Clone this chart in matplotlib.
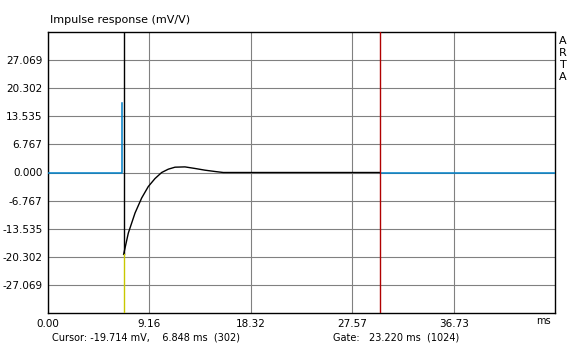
import matplotlib
matplotlib.use("Agg")
import matplotlib.pyplot as plt

# Data
y_ticks = [-27.069, -20.302, -13.535, -6.767, 0.0, 6.767, 13.535, 20.302, 27.069]
y_tick_labels = ["-27.069", "-20.302", "-13.535", "-6.767", "0.000", "6.767", "13.535", "20.302", "27.069"]
x_max = 45.9
x_ticks = [0.0, 9.18, 18.36, 27.54, 36.72]
x_tick_labels = ["0.00", "9.16", "18.32", "27.57", "36.73"]
y_lim = 33.835

cursor_ms = 6.848
cursor_val = -19.714
gate_end_ms = 30.068

# pre-cursor (blue) trace
pre_t = [0.0, 6.70, 6.70]
pre_v = [0.0, 0.0, 16.7]
# gated (black) response
gate_t = [6.848, 7.27, 7.88, 8.48, 9.08, 9.69, 10.29, 10.89, 11.50, 12.40, 13.31, 14.21, 15.12, 15.87, 30.068]
gate_v = [-19.714, -14.6, -9.75, -6.14, -3.38, -1.45, 0.0, 0.80, 1.28, 1.35, 0.97, 0.56, 0.24, 0.0, 0.0]
# post-gate (blue) trace
post_t = [30.068, 45.9]
post_v = [0.0, 0.0]

fig = plt.figure(figsize=(5.78, 3.45), dpi=100)
ax = fig.add_axes([48/578, 32/345, 507/578, 281/345])
ax.set_xlim(0, x_max)
ax.set_ylim(-y_lim, y_lim)

ax.set_xticks(x_ticks)
ax.set_xticklabels(x_tick_labels)
ax.set_yticks(y_ticks)
ax.set_yticklabels(y_tick_labels)
ax.tick_params(length=0, labelsize=7.5, pad=4)
ax.grid(True, color="#808080", linewidth=0.8)
for s in ax.spines.values():
    s.set_color("black")
    s.set_linewidth(1.0)

blue = "#0080c8"
ax.plot(pre_t, pre_v, color=blue, lw=1.1, zorder=3)
ax.plot(post_t, post_v, color=blue, lw=1.1, zorder=3)
ax.plot(gate_t, gate_v, color="black", lw=1.0, zorder=4)
# cursor line: black above the point, yellow below
ax.plot([cursor_ms, cursor_ms], [cursor_val, y_lim], color="black", lw=1.0, zorder=4)
ax.plot([cursor_ms, cursor_ms], [-y_lim, cursor_val], color="#c8c800", lw=1.0, zorder=4)
# gate line
ax.axvline(gate_end_ms, color="#b00000", lw=1.0, zorder=4)

fig.text(50/578, 1 - 20/345, "Impulse response (mV/V)", fontsize=8, va="center", ha="left")
for i, ch in enumerate("ARTA"):
    fig.text(563/578, 1 - (40.5 + i*12.2)/345, ch, fontsize=8, va="center", ha="center")
fig.text(543/578, 1 - 321/345, "ms", fontsize=7, va="center", ha="center")
fig.text(52/578, 1 - 337/345, "Cursor: -19.714 mV,    6.848 ms  (302)", fontsize=7, va="center", ha="left")
fig.text(333/578, 1 - 337/345, "Gate:   23.220 ms  (1024)", fontsize=7, va="center", ha="left")

fig.savefig("out.png", dpi=100, facecolor="white")
